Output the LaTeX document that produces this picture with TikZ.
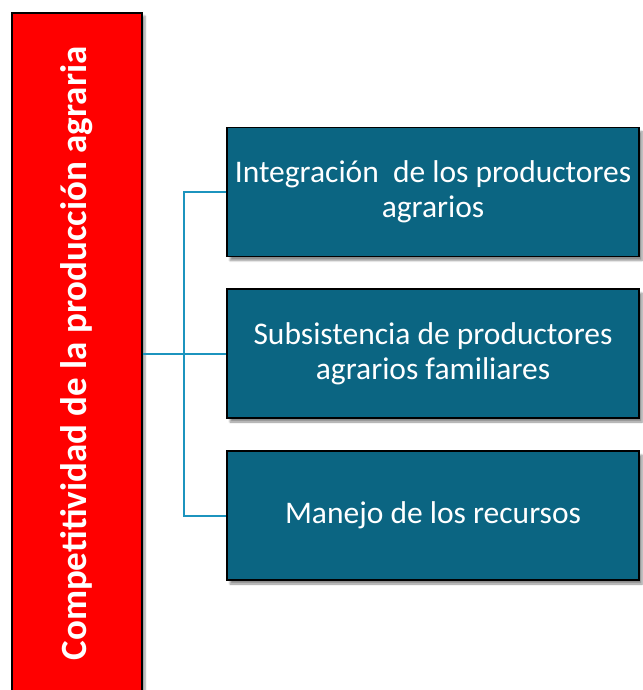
\documentclass[tikz,border=0pt]{standalone}
\usepackage{fontspec}
\setmainfont{Carlito}
\usetikzlibrary{shadows.blur}
\definecolor{tealbox}{RGB}{11,101,130}
\definecolor{linkblue}{RGB}{28,148,190}
\definecolor{redbox}{RGB}{255,0,0}
\tikzset{
  x=1pt, y=-1pt,
  mybox/.style={draw=black, line width=1.3pt, fill=tealbox, text=white,
    minimum width=412pt, minimum height=129pt, align=center,
    font=\fontsize{31.5}{35}\selectfont, inner sep=0pt,
    blur shadow={shadow xshift=3pt, shadow yshift=-4pt, shadow blur steps=6, shadow opacity=45}},
  mainbox/.style={draw=black, line width=1.3pt, fill=redbox, text=white,
    minimum width=681pt, minimum height=130pt, rotate=90, inner sep=0pt,
    font=\bfseries\fontsize{37}{40}\selectfont,
    blur shadow={shadow xshift=3pt, shadow yshift=-3pt, shadow blur steps=6, shadow opacity=40}},
  link/.style={draw=linkblue, line width=2pt}
}
\begin{document}
\begin{tikzpicture}
\useasboundingbox (0,0) rectangle (642,690);
\node[mainbox] (main) at (77,353.5) {Competitividad de la producción agraria};
\node[mybox] (b1) at (433,192) {Integración\ \ de los productores\\agrarios};
\node[mybox] (b2) at (433,353.5) {Subsistencia de productores\\agrarios familiares};
\node[mybox] (b3) at (433,515.5) {Manejo de los recursos};
\coordinate (jx) at (184,0);
\draw[link] (main.south) -- (b2.west);
\draw[link] (b1.west) -- (b1.west -| jx) -- (b3.west -| jx) -- (b3.west);
\end{tikzpicture}
\end{document}
